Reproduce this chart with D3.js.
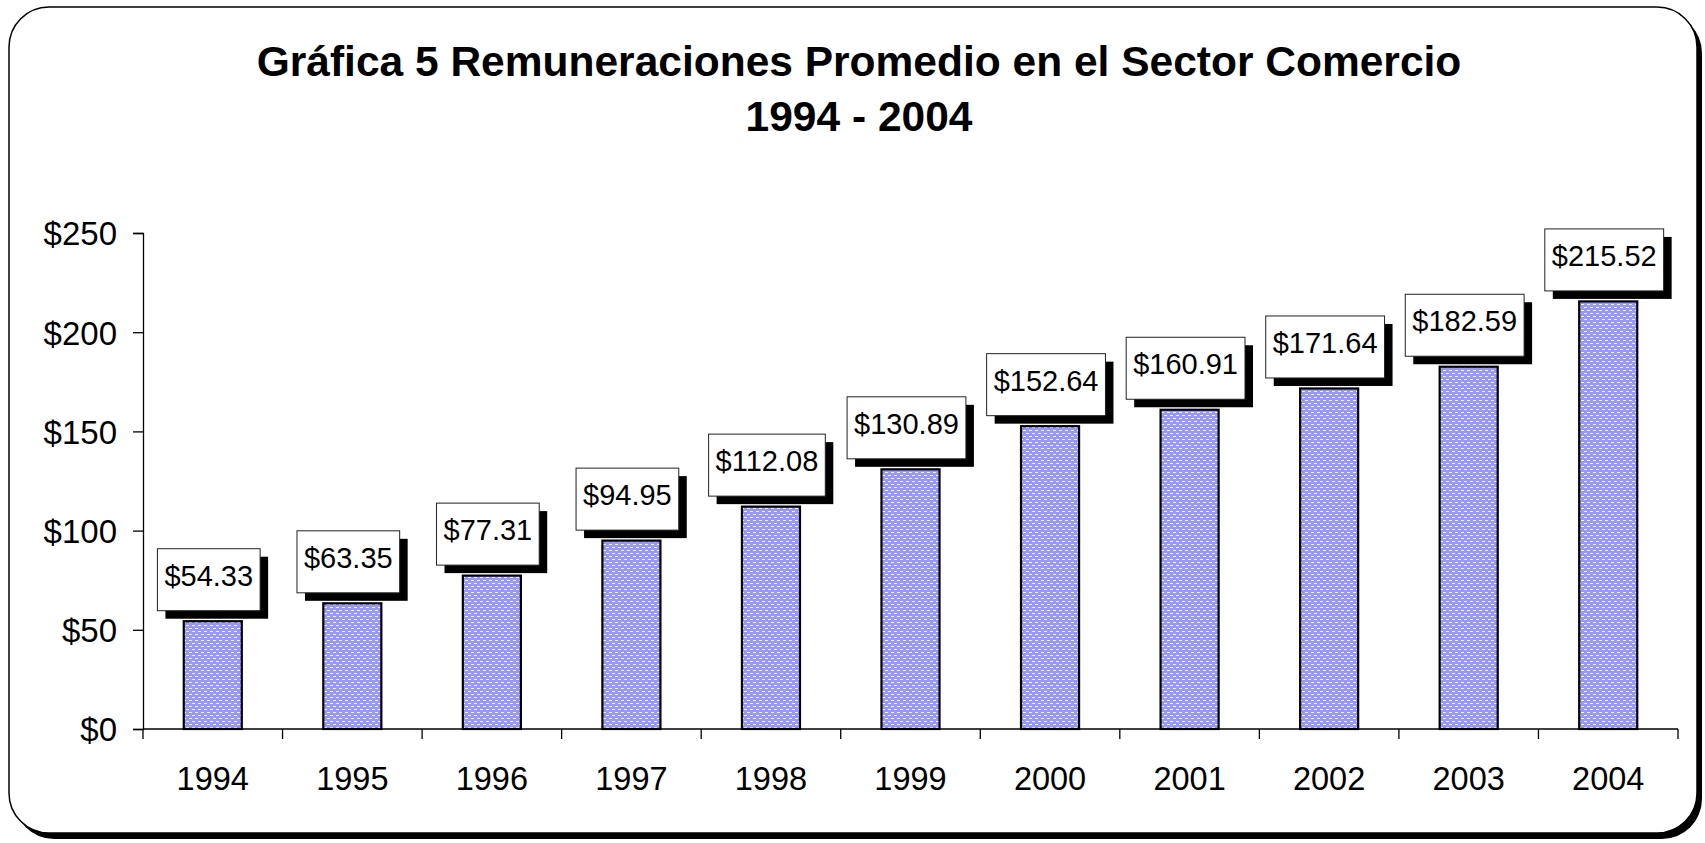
<!DOCTYPE html>
<html>
<head>
<meta charset="utf-8">
<script src="https://cdn.jsdelivr.net/npm/d3@7"></script>
<style>
  body { margin: 0; background: #fff; }
  text { font-family: "Liberation Sans", Arial, sans-serif; fill: #000; }
</style>
</head>
<body>
<svg id="chart"></svg>
<script>
// data
const years = ["1994", "1995", "1996", "1997", "1998", "1999", "2000", "2001", "2002", "2003", "2004"];
const values = [54.33, 63.35, 77.31, 94.95, 112.08, 130.89, 152.64, 160.91, 171.64, 182.59, 215.52];
const yTicks = [0, 50, 100, 150, 200, 250];
const titleLines = ["Gráfica 5 Remuneraciones Promedio en el Sector Comercio", "1994 - 2004"];

const data = years.map((y, i) => ({year: y, value: values[i]}));

const width = 1705, height = 843;
const plot = {left: 143, right: 1678, top: 233, bottom: 729};

const svg = d3.select("#chart").attr("width", width).attr("height", height);

// pattern for the bars: light blue with small white dashes
const defs = svg.append("defs");
const pat = defs.append("pattern")
    .attr("id", "dots")
    .attr("patternUnits", "userSpaceOnUse")
    .attr("width", 6).attr("height", 6);
pat.append("rect").attr("width", 6).attr("height", 6).attr("fill", "#9898fb");
pat.append("rect").attr("x", 0).attr("y", 1).attr("width", 3).attr("height", 1).attr("fill", "#f4f4ff");
pat.append("rect").attr("x", 3).attr("y", 4).attr("width", 3).attr("height", 1).attr("fill", "#f4f4ff");

// frame with shadow
svg.append("rect")
    .attr("x", 14).attr("y", 13).attr("width", 1688).attr("height", 826)
    .attr("rx", 40).attr("fill", "#000");
svg.append("rect")
    .attr("x", 9).attr("y", 7).attr("width", 1688).attr("height", 826)
    .attr("rx", 40).attr("fill", "#fff").attr("stroke", "#000").attr("stroke-width", 1.5);

// title
svg.append("g").selectAll("text")
  .data(titleLines).enter()
  .append("text")
    .attr("x", 859)
    .attr("y", (d, i) => 76 + i * 55)
    .attr("text-anchor", "middle")
    .attr("font-weight", "bold")
    .attr("font-size", 42.5)
    .text(d => d);

const x = d3.scaleBand()
    .domain(years)
    .range([plot.left, plot.right])
    .paddingInner(0.584)
    .paddingOuter(0.292);

const xCat = d3.scaleBand()
    .domain(years)
    .range([plot.left, plot.right])
    .padding(0);

const y = d3.scaleLinear()
    .domain([0, 250])
    .range([plot.bottom, plot.top]);

// y axis
const yAxis = d3.axisLeft(y)
    .tickValues(yTicks)
    .tickSize(10)
    .tickPadding(16)
    .tickFormat(d => "$" + d);

const gy = svg.append("g")
    .attr("transform", "translate(" + plot.left + ",0)")
    .call(yAxis);
gy.select(".domain").attr("stroke", "#000").attr("stroke-width", 1.3);
gy.selectAll(".tick line").attr("stroke", "#000").attr("stroke-width", 1.3);
gy.selectAll(".tick text")
    .attr("font-size", 33)
    .attr("font-family", "Liberation Sans, Arial, sans-serif")
    .attr("dy", "0.36em");

// x axis: baseline, category boundary ticks, labels
const gx = svg.append("g");
gx.append("line")
    .attr("x1", plot.left).attr("x2", plot.right)
    .attr("y1", y(0)).attr("y2", y(0))
    .attr("stroke", "#000").attr("stroke-width", 1.3);

const bounds = years.map(d => xCat(d)).concat([plot.right]);
gx.selectAll("line.tick")
  .data(bounds).enter()
  .append("line")
    .attr("class", "tick")
    .attr("x1", d => d).attr("x2", d => d)
    .attr("y1", y(0)).attr("y2", y(0) + 10)
    .attr("stroke", "#000").attr("stroke-width", 1.3);

gx.selectAll("text")
  .data(years).enter()
  .append("text")
    .attr("x", d => xCat(d) + xCat.bandwidth() / 2)
    .attr("y", 790)
    .attr("text-anchor", "middle")
    .attr("font-size", 32.5)
    .text(d => d);

// bars
svg.append("g").selectAll("rect")
  .data(data).enter()
  .append("rect")
    .attr("x", d => x(d.year))
    .attr("y", d => y(d.value))
    .attr("width", x.bandwidth())
    .attr("height", d => y(0) - y(d.value))
    .attr("fill", "url(#dots)")
    .attr("stroke", "#000")
    .attr("stroke-width", 2.2);

// value labels in boxes with drop shadow
const fmt = d3.format("$.2f");
const lab = svg.append("g").selectAll("g")
  .data(data).enter()
  .append("g");

lab.each(function(d) {
  const g = d3.select(this);
  const shadow = g.append("rect").attr("fill", "#000");
  const box = g.append("rect").attr("fill", "#fff").attr("stroke", "#222").attr("stroke-width", 1);
  const t = g.append("text")
      .attr("font-size", 29)
      .attr("text-anchor", "middle")
      .text(fmt(d.value));
  const tw = t.node().getComputedTextLength();
  const bw = tw + 14, bh = 62;
  const cx = x(d.year) + x.bandwidth() / 2 - 4;
  const bottom = y(d.value) - 10.5;
  const top = bottom - bh;
  shadow.attr("x", cx - bw / 2 + 8).attr("y", top + 8).attr("width", bw).attr("height", bh);
  box.attr("x", cx - bw / 2).attr("y", top).attr("width", bw).attr("height", bh);
  t.attr("x", cx).attr("y", top + 37);
});
</script>
</body>
</html>
